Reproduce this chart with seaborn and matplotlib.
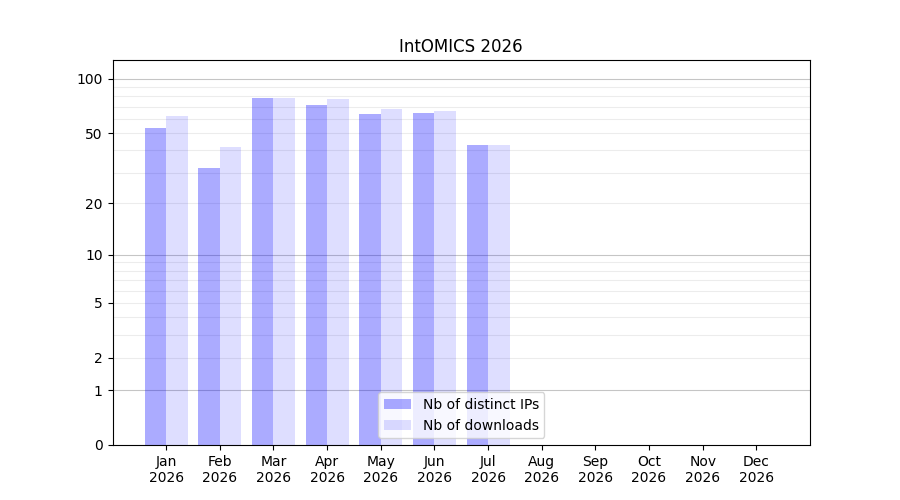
import numpy as np
import pandas as pd
import seaborn as sns
import matplotlib
matplotlib.use("Agg")
import matplotlib.pyplot as plt
from matplotlib.patches import Patch
from matplotlib.ticker import FixedLocator, FuncFormatter

# data
months = ["Jan", "Feb", "Mar", "Apr", "May", "Jun", "Jul", "Aug", "Sep", "Oct", "Nov", "Dec"]
year = "2026"
distinct_ips = [53, 32, 78, 72, 64, 65, 43]
downloads = [62, 42, 78, 77, 68, 66, 43]
lab_ips = "Nb of distinct IPs"
lab_dl = "Nb of downloads"
y_labels = [0, 1, 2, 5, 10, 20, 50, 100]
y_major_grid = [1, 10, 100]
y_minor_grid = [2, 3, 4, 5, 6, 7, 8, 9, 20, 30, 40, 50, 60, 70, 80, 90]

df = pd.DataFrame({
    "month": months[:len(distinct_ips)] * 2,
    "count": distinct_ips + downloads,
    "kind": [lab_ips] * len(distinct_ips) + [lab_dl] * len(downloads),
})

fig, ax = plt.subplots(figsize=(9, 5), dpi=100)

sns.barplot(data=df, x="month", y="count", hue="kind", order=months,
            hue_order=[lab_ips, lab_dl], palette=["blue", "blue"],
            saturation=1, width=0.8, legend=False, ax=ax, zorder=2)

alphas = [0.33, 0.13]
for cont, a in zip(ax.containers, alphas):
    for p in cont:
        p.set_alpha(a)

# log(1 + y) scale
ax.set_yscale("function", functions=(lambda y: np.log10(1 + np.maximum(y, 0)),
                                     lambda y: 10 ** y - 1))
ax.set_ylim(0, 127)
ax.yaxis.set_major_locator(FixedLocator(y_labels))
ax.yaxis.set_major_formatter(FuncFormatter(lambda v, p: f"{v:g}"))
ax.yaxis.set_minor_locator(FixedLocator(y_minor_grid))
ax.yaxis.remove_overlapping_locs = False
ax.tick_params(axis="y", which="minor", length=0)
ax.grid(axis="y", which="minor", color="0.5", alpha=0.15, linewidth=0.8)
for v in y_major_grid:
    ax.axhline(v, color="0.5", alpha=0.45, linewidth=0.8, zorder=0.5)
ax.set_axisbelow(True)

ax.set_xlim(-1, 12)
ax.set_xticks(range(len(months)))
ax.set_xticklabels([f"{m}\n{year}" for m in months])
ax.set_xlabel("")
ax.set_ylabel("")
ax.set_title("IntOMICS 2026")

handles = [Patch(facecolor="blue", alpha=alphas[0], label=lab_ips),
           Patch(facecolor="blue", alpha=alphas[1], label=lab_dl)]
ax.legend(handles=handles, loc="lower center")

fig.savefig("out.png", dpi=100)
